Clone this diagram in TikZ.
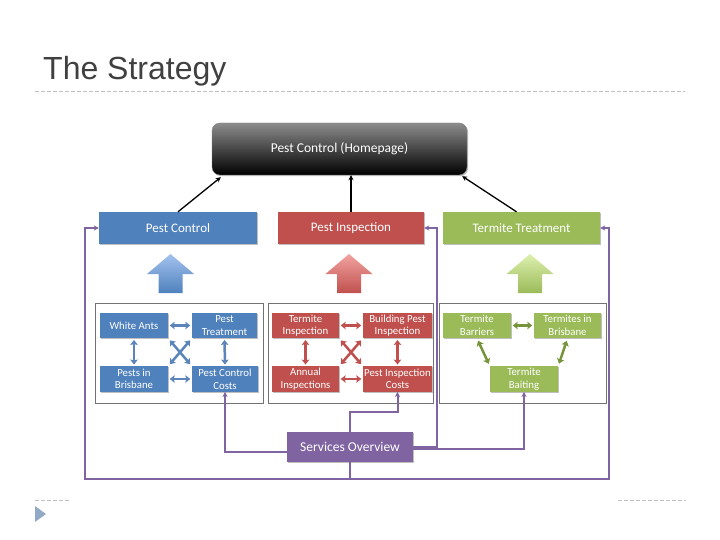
\documentclass[tikz,border=0pt]{standalone}
\usepackage{fontspec}
\setmainfont{Carlito}
\newfontfamily\titlefont{Liberation Sans}
\usetikzlibrary{arrows.meta,shadows,calc}
\definecolor{ofblue}{HTML}{4F81BD}
\definecolor{ofred}{HTML}{C0504D}
\definecolor{ofgreen}{HTML}{9BBB59}
\definecolor{ofpurple}{HTML}{8064A2}
\definecolor{arrblue}{HTML}{5A84BA}
\definecolor{arrred}{HTML}{C0504D}
\definecolor{arrgreen}{HTML}{77933C}
\definecolor{lblue}{HTML}{A3C2EE}
\definecolor{lred}{HTML}{F2A3A1}
\definecolor{lgreen}{HTML}{DDF0AE}
\definecolor{titlegray}{HTML}{404040}
\definecolor{dashgray}{HTML}{C0C0C0}
\definecolor{trigray}{HTML}{93AAC6}
\begin{document}
\begin{tikzpicture}[x=1pt,y=-1pt,
  sh/.style={drop shadow={shadow xshift=1.2pt,shadow yshift=-1.2pt,opacity=0.25,fill=black}},
  topbox/.style={sh,inner sep=0pt,text=white,font=\fontsize{13}{15}\selectfont,minimum height=32pt},
  smallbox/.style={sh,inner sep=0pt,text=white,align=center,font=\fontsize{10.8}{12.6}\selectfont,minimum height=25.5pt},
  panel/.style={draw=black!55,line width=0.8pt,fill=white},
  dbl/.style={{Stealth[length=5pt,width=7.5pt,inset=1pt]}-{Stealth[length=5pt,width=7.5pt,inset=1pt]},line width=2.5pt,shorten >=1.5pt,shorten <=1.5pt},
  dbld/.style={dbl,shorten >=2.5pt,shorten <=2.5pt},
  blk/.style={-{Stealth[length=5pt,width=5pt]},line width=1.3pt,black},
  pur/.style={draw=ofpurple,line width=2pt,-{Stealth[length=5pt,width=5pt,inset=1.5pt]}}
]
\useasboundingbox (0,0) rectangle (720,540);

% title and slide decorations
\node[anchor=base west,inner sep=0pt,text=titlegray,font=\titlefont\fontsize{32}{38}\selectfont] (title) at (43,80) {The Strategy};
\draw[dashgray,line width=0.8pt,dash pattern=on 4pt off 2pt] (35,91) -- (685,91);
\draw[dashgray,line width=0.8pt,dash pattern=on 4pt off 2pt] (35,500) -- (70,500);
\draw[dashgray,line width=0.8pt,dash pattern=on 4pt off 2pt] (618,500) -- (686,500);
\fill[trigray] (35,506) -- (46,514) -- (35,522) -- cycle;

% homepage
\node[sh,rounded corners=8pt,draw=black!50,top color=black!45,bottom color=black,inner sep=0pt,
  minimum width=255pt,minimum height=52pt,text=white,font=\fontsize{13.5}{15}\selectfont] (home) at (339.5,149) {Pest Control (Homepage)};

% top boxes
\node[topbox,fill=ofblue,minimum width=158pt] (pc) at (178,228) {Pest Control};
\node[topbox,fill=ofred,minimum width=146pt] (pi) at (351,228) {Pest Inspection};
\node[topbox,fill=ofgreen,minimum width=157pt] (tt) at (521.5,228) {Termite Treatment};

% black arrows
\draw[blk] (pc.north) -- ($(home.south west)+(9,2)$);
\draw[blk] (pi.north) -- (pi.north |- home.south);
\draw[blk] ($(tt.north)+(-5,0)$) -- ($(home.south east)+(-5,1)$);

% block arrows
\foreach \cx/\tc/\bc in {170.5/lblue/ofblue, 349/lred/ofred, 530/lgreen/ofgreen}{
  \shade[top color=\tc,bottom color=\bc] (\cx,254) -- (\cx+23.5,274) -- (\cx+12,274) -- (\cx+12,293)
     -- (\cx-12,293) -- (\cx-12,274) -- (\cx-23.5,274) -- cycle;
}

% panels
\draw[panel] (95,303) rectangle (263,403);
\draw[panel] (268,303) rectangle (433,403);
\draw[panel] (439,303) rectangle (606,403);

% left panel
\node[smallbox,fill=ofblue,minimum width=68pt] (wa) at (134,325.5) {White Ants};
\node[smallbox,fill=ofblue,minimum width=65pt] (pt) at (224.5,325.5) {Pest\\Treatment};
\node[smallbox,fill=ofblue,minimum width=68pt] (pib) at (134,379) {Pests in\\Brisbane};
\node[smallbox,fill=ofblue,minimum width=66pt] (pcc) at (225,379) {Pest Control\\Costs};
\draw[dbl,arrblue] (wa.east) -- (pt.west);
\draw[dbl,arrblue] (pib.east) -- (pcc.west);
\draw[dbl,arrblue] (wa.south) -- (pib.north);
\draw[dbl,arrblue] (pt.south) -- (pcc.north);
\draw[dbld,arrblue] (wa.south east) -- (pcc.north west);
\draw[dbld,arrblue] (pt.south west) -- (pib.north east);

% middle panel
\node[smallbox,fill=ofred,minimum width=67pt] (ti) at (305.5,325.5) {Termite\\Inspection};
\node[smallbox,fill=ofred,minimum width=69pt] (bpi) at (397.5,325.5) {Building Pest\\Inspection};
\node[smallbox,fill=ofred,minimum width=67pt] (ai) at (305.5,379) {Annual\\Inspections};
\node[smallbox,fill=ofred,minimum width=69pt] (pic) at (397.5,379) {Pest Inspection\\Costs};
\draw[dbl,arrred] (ti.east) -- (bpi.west);
\draw[dbl,arrred] (ai.east) -- (pic.west);
\draw[dbl,arrred] (ti.south) -- (ai.north);
\draw[dbl,arrred] (bpi.south) -- (pic.north);
\draw[dbld,arrred] (ti.south east) -- (pic.north west);
\draw[dbld,arrred] (bpi.south west) -- (ai.north east);

% right panel
\node[smallbox,fill=ofgreen,minimum width=68pt] (tb) at (477,325.5) {Termite\\Barriers};
\node[smallbox,fill=ofgreen,minimum width=67pt] (tib) at (567.5,325.5) {Termites in\\Brisbane};
\node[smallbox,fill=ofgreen,minimum width=68pt] (tba) at (524,379) {Termite\\Baiting};
\draw[dbl,arrgreen] (tb.east) -- (tib.west);
\draw[dbld,arrgreen] (tb.south) -- (tba.north west);
\draw[dbld,arrgreen] (tib.south) -- (tba.north east);

% services overview
\node[sh,fill=ofpurple,inner sep=0pt,minimum width=126pt,minimum height=30pt,text=white,
  font=\fontsize{13.5}{15}\selectfont] (so) at (350,447) {Services Overview};

% purple connectors
\draw[pur] ($(so.west)+(0,5)$) -| (pcc.south);
\draw[pur] (so.north) -- ++(0,-20) -| (pic.south);
\draw[pur] (so.east) -| ($(pi.east)+(13,0)$) -- (pi.east);
\draw[pur] ($(so.east)+(0,2)$) -| (tba.south);
\draw[pur] (so.south) -- ++(0,17) -| ($(pc.west)+(-14,0)$) -- (pc.west);
\draw[pur] (so.south) -- ++(0,17) -| ($(tt.east)+(9,0)$) -- (tt.east);
\end{tikzpicture}
\end{document}
